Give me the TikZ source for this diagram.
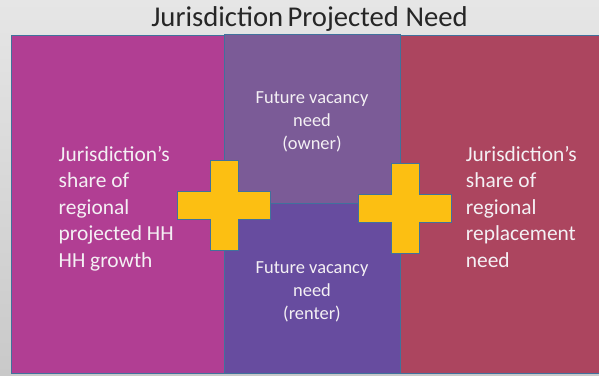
\documentclass[tikz,border=0pt]{standalone}
\usepackage{fontspec}
\setmainfont{Carlito}
\begin{document}
\begin{tikzpicture}[x=1bp,y=-1bp,
  panel/.style={draw=edge,line width=0.9bp},
  plus/.style={fill=gold,draw=edge,line width=0.9bp,line join=miter},
  bigtext/.style={text=txt,align=left,font=\fontsize{21.5}{26.7}\selectfont,inner sep=0pt},
  smalltext/.style={text=txt,align=center,font=\fontsize{18.5}{23}\selectfont,inner sep=0pt},
]
\definecolor{edge}{HTML}{41719C}
\definecolor{gold}{HTML}{FCBF12}
\definecolor{magentabox}{HTML}{B13E93}
\definecolor{ownerbox}{HTML}{7B5B97}
\definecolor{renterbox}{HTML}{674C9F}
\definecolor{redbox}{HTML}{AC455F}
\definecolor{txt}{HTML}{F4F0F4}
\definecolor{title}{HTML}{262626}
\definecolor{bgtop}{HTML}{E6E6E6}
\definecolor{bgbot}{HTML}{C9C9C9}

% slide background
\shade[top color=bgtop,bottom color=bgbot] (0,0) rectangle (599,375);
\useasboundingbox (0,0) rectangle (599,375);

% title
\node[anchor=base,text=title,font=\fontsize{28.8}{34}\selectfont,inner sep=0pt] (ttl) at (309.5,26) {Jurisdiction\hspace{0.15em}Projected Need};

% four panels
\path[panel,fill=magentabox] (11.5,35.5) rectangle (224,373);
\path[panel,fill=redbox] (400.5,35.5) rectangle (600,373);
\path[panel,fill=ownerbox] (224,34.5) rectangle (400.5,203);
\path[panel,fill=renterbox] (224,203) rectangle (400.5,373);

% panel texts (base anchor sits on the last line)
\node[bigtext,anchor=base west] (growth) at (58.5,267.5)
  {Jurisdiction’s\\share of\\regional\\projected HH\\HH growth};
\node[bigtext,anchor=base west] (replace) at (465.7,267.5)
  {Jurisdiction’s\\share of\\regional\\replacement\\need};
\node[smalltext,anchor=base] (owner) at (312,149.3)
  {Future vacancy\\need\\(owner)};
\node[smalltext,anchor=base] (renter) at (312,319.3)
  {Future vacancy\\need\\(renter)};

% plus signs
\draw[plus] (210,160) -- (238,160) -- (238,191) -- (270,191) -- (270,219)
  -- (238,219) -- (238,250) -- (210,250) -- (210,219) -- (177,219)
  -- (177,191) -- (210,191) -- cycle;
\draw[plus] (391,163) -- (419,163) -- (419,194) -- (451,194) -- (451,222)
  -- (419,222) -- (419,253) -- (391,253) -- (391,222) -- (358,222)
  -- (358,194) -- (391,194) -- cycle;
\end{tikzpicture}
\end{document}
